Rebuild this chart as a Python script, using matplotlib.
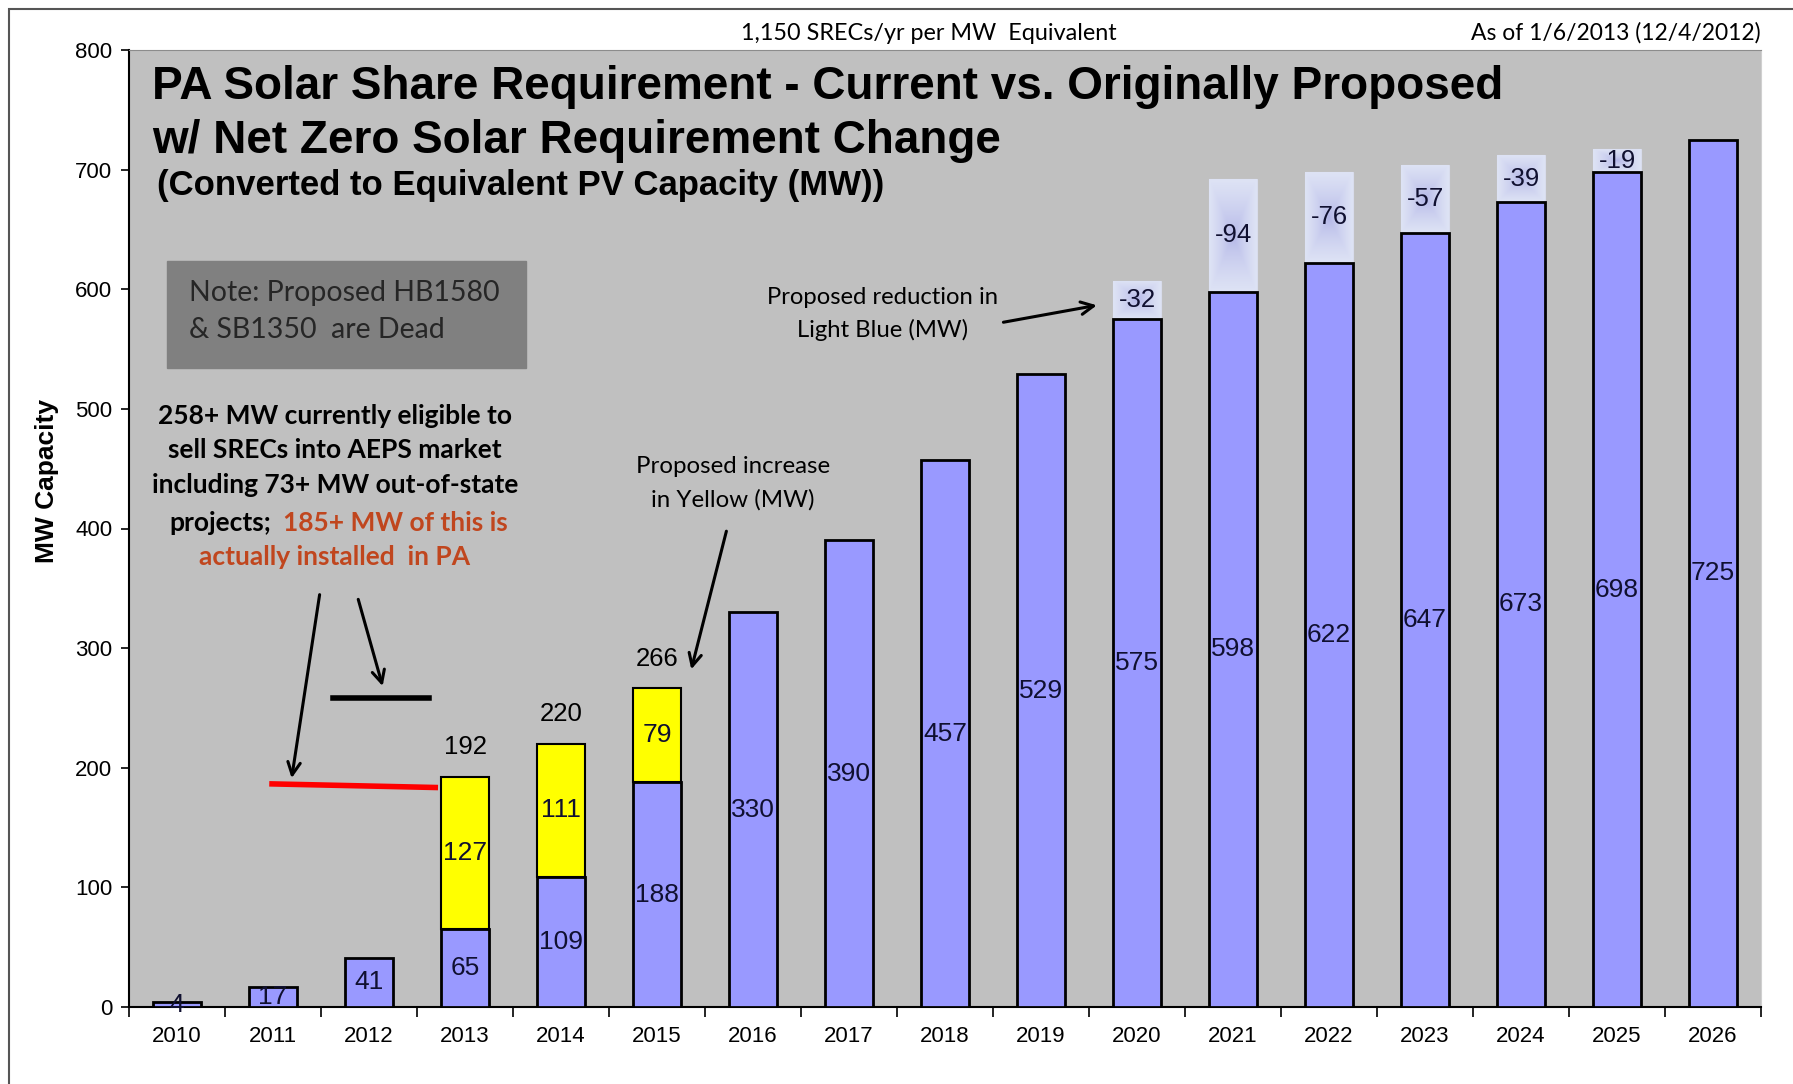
import numpy as np
import matplotlib.pyplot as plt
from matplotlib.patches import Rectangle

years = [str(y) for y in range(2010, 2027)]
current_mw = [4, 17, 41, 65, 109, 188, 330, 390, 457, 529, 575, 598, 622, 647, 673, 698, 725]
increase_mw = [0, 0, 0, 127, 111, 79, 0, 0, 0, 0, 0, 0, 0, 0, 0, 0, 0]
increase_totals = [0, 0, 0, 192, 220, 266, 0, 0, 0, 0, 0, 0, 0, 0, 0, 0, 0]
reduction_mw = [0, 0, 0, 0, 0, 0, 0, 0, 0, 0, 32, 94, 76, 57, 39, 19, 0]
eligible_mw = 258
installed_mw = 185

blue = '#9999FF'
yellow = '#FFFF00'
red_txt = '#C0461E'
num_font = 'Liberation Sans'
cal_font = 'Lato'

fig = plt.figure(figsize=(17.93, 10.84), dpi=100)
ax = fig.add_axes([129/1793, 1-1007/1084, (1761-129)/1793, (1007-50)/1084])
ax.set_facecolor('#C0C0C0')

x = np.arange(len(years))
w = 0.5

bars = ax.bar(x, current_mw, w, color=blue, edgecolor='black', linewidth=2, zorder=3)
inc = np.array(increase_mw)
ax.bar(x[inc > 0], inc[inc > 0], w, bottom=np.array(current_mw)[inc > 0],
       color=yellow, edgecolor='black', linewidth=1.5, zorder=3)

# light blue "reduction" pieces with a centre gradient
red = np.array(reduction_mw)
gy, gx = np.mgrid[-1:1:60j, -1:1:30j]
g = np.maximum(np.abs(gx), np.abs(gy))
c_mid = np.array([0.68, 0.69, 0.90])
c_edge = np.array([0.87, 0.89, 0.96])
grad = c_mid + (c_edge - c_mid) * g[..., None] ** 0.6
for i in x[red > 0]:
    p = ax.bar(i, red[i], w, bottom=current_mw[i], color='#dfe4f3',
               edgecolor='#d8dcec', linewidth=0.8, zorder=2)[0]
    im = ax.imshow(grad, extent=[i - w/2, i + w/2, current_mw[i], current_mw[i] + red[i]],
                   aspect='auto', zorder=2.5, interpolation='bilinear')
    im.set_clip_path(p)
    ax.text(i, current_mw[i] + red[i]/2, f'-{red[i]}', ha='center', va='center',
            fontsize=18.5, family=num_font, color='#101030', zorder=5)

for i in x:
    ax.text(i, current_mw[i]/2, str(current_mw[i]), ha='center', va='center',
            fontsize=19, family=num_font, color='#101030', zorder=5)
    if inc[i] > 0:
        ax.text(i, current_mw[i] + inc[i]/2, str(inc[i]), ha='center', va='center',
                fontsize=19, family=num_font, color='#101030', zorder=5)
        ax.text(i, increase_totals[i] + 25, str(increase_totals[i]), ha='center', va='center',
                fontsize=18.5, family=num_font, color='black', zorder=5)

ax.set_xlim(-0.5, len(years) - 0.5)
ax.set_ylim(0, 800)
ax.set_yticks(range(0, 801, 100))
ax.set_xticks(x)
ax.set_xticklabels(years, fontsize=16, family=num_font)
ax.tick_params(axis='x', length=0, pad=14)
ax.set_xticks(np.arange(-0.5, len(years), 1), minor=True)
ax.tick_params(axis='x', which='minor', length=7, width=1.2, direction='out')
ax.tick_params(axis='y', length=6, width=1.2, labelsize=16, pad=6)
for lab in ax.get_yticklabels():
    lab.set_family(num_font)
ax.spines['left'].set_linewidth(1.5)
ax.spines['bottom'].set_linewidth(1.5)
ax.spines['top'].set_color('#8c8c8c')
ax.spines['right'].set_color('#d0d0d0')
ax.set_ylabel('MW Capacity', fontsize=19, fontweight='bold', family=num_font)
ax.yaxis.set_label_coords(-0.043, 0.55)

# titles
ax.text(-0.26, 769, 'PA Solar Share Requirement - Current vs. Originally Proposed',
        fontsize=33, fontweight='bold', family=num_font, va='center', zorder=6)
ax.text(-0.26, 724, 'w/ Net Zero Solar Requirement Change',
        fontsize=33, fontweight='bold', family=num_font, va='center', zorder=6)
ax.text(-0.21, 687, '(Converted to Equivalent PV Capacity (MW))',
        fontsize=25, fontweight='bold', family=num_font, va='center', zorder=6)
ax.text(7.83, 814, '1,150 SRECs/yr per MW  Equivalent', fontsize=16.8, family=cal_font,
        ha='center', va='center', clip_on=False)
ax.text(16.5, 814, 'As of 1/6/2013 (12/4/2012)', fontsize=16.5, family=cal_font,
        ha='right', va='center', clip_on=False)

# note box
ax.add_patch(Rectangle((-0.107, 534), 3.74, 90, color='#808080', zorder=4))
ax.text(0.12, 597, 'Note: Proposed HB1580', fontsize=20.5, family=cal_font,
        color='#262626', va='center', zorder=5)
ax.text(0.12, 566, '& SB1350  are Dead', fontsize=20.5, family=cal_font,
        color='#262626', va='center', zorder=5)

# eligible / installed annotation
tx = 1.644
fs = 19
ax.text(tx, 494, '258+ MW currently eligible to', fontsize=fs, fontweight='bold',
        family=cal_font, ha='center', va='center', zorder=5)
ax.text(tx, 465.5, 'sell SRECs into AEPS market', fontsize=fs, fontweight='bold',
        family=cal_font, ha='center', va='center', zorder=5)
ax.text(tx, 436, 'including 73+ MW out-of-state', fontsize=fs, fontweight='bold',
        family=cal_font, ha='center', va='center', zorder=5)
ax.text(0.98, 405, 'projects;', fontsize=fs, fontweight='bold',
        family=cal_font, ha='right', va='center', zorder=5)
ax.text(1.10, 405, '185+ MW of this is', fontsize=fs, fontweight='bold',
        family=cal_font, color=red_txt, ha='left', va='center', zorder=5)
ax.text(tx, 376.5, 'actually installed  in PA', fontsize=fs, fontweight='bold',
        family=cal_font, color=red_txt, ha='center', va='center', zorder=5)

ax.plot([1.62, 2.62], [eligible_mw, eligible_mw], color='black', lw=4, zorder=5)
ax.plot([0.99, 2.69], [installed_mw + 1.5, installed_mw - 1.5], color='red', lw=4, zorder=5)

arrow = dict(arrowstyle='->,head_length=0.9,head_width=0.45', color='black', lw=2.2)
ax.annotate('', xy=(1.19, 189), xytext=(1.49, 347), arrowprops=arrow, zorder=5)
ax.annotate('', xy=(2.15, 266), xytext=(1.88, 343), arrowprops=arrow, zorder=5)

ax.text(5.79, 452, 'Proposed increase', fontsize=17.3, family=cal_font, ha='center', va='center')
ax.text(5.79, 424, 'in Yellow (MW)', fontsize=17.3, family=cal_font, ha='center', va='center')
ax.annotate('', xy=(5.35, 280), xytext=(5.73, 400), arrowprops=arrow, zorder=5)

ax.text(7.35, 593, 'Proposed reduction in', fontsize=17.2, family=cal_font, ha='center', va='center')
ax.text(7.35, 566, 'Light Blue (MW)', fontsize=17.2, family=cal_font, ha='center', va='center')
ax.annotate('', xy=(9.61, 587), xytext=(8.58, 572), arrowprops=arrow, zorder=5)

# outer frame of the original chart
fig.patches.append(Rectangle((9/1793, -0.1), 1.2, 1.1 - 9/1084, fill=False,
                             edgecolor='#555555', lw=1.5, transform=fig.transFigure))

fig.savefig('out.png', dpi=100)
